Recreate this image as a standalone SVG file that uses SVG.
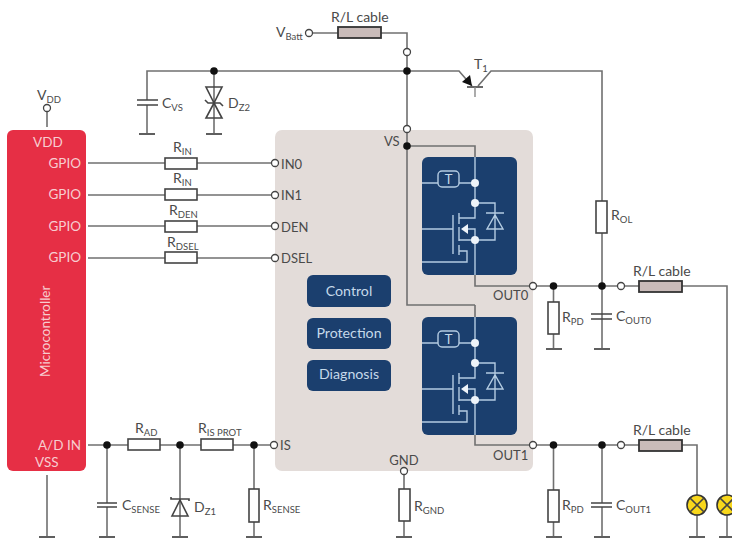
<svg xmlns="http://www.w3.org/2000/svg" width="732" height="538" viewBox="0 0 732 538">
<style>
text{font-family:Lato,"Noto Sans",sans-serif;font-size:14px;fill:#4a4a4a}
.s{font-size:9.500px}
.p{font-size:13px}
.w{fill:#f7cdd0;font-size:13.500px}
.lb{fill:#c5d9ea;font-size:14.200px}
.l{fill:none;stroke:#707070;stroke-width:1.6}
.k{fill:none;stroke:#444;stroke-width:1.6}
.g{fill:none;stroke:#5f5f5f;stroke-width:2}
.r{fill:#fff;stroke:#444;stroke-width:1.6}
.c{fill:#c9bbb9;stroke:#333;stroke-width:1.8}
.o{fill:#fff;stroke:#444;stroke-width:1.3}
.d{fill:#111}
.i{fill:none;stroke:#b4cce2;stroke-width:1.4}
.id{fill:#eef4fa}
.lamp{fill:#f8d71c;stroke:#333;stroke-width:1.6}
.box{fill:#1b3f6e}
</style>

<g id="ic-body"><rect x="275" y="130" width="258" height="341" rx="7" fill="#e3dcd9"/></g>
<g id="microcontroller">
<rect x="7" y="130" width="79" height="341" rx="6" fill="#e62f45"/>
<text class="w" x="33" y="147">VDD</text>
<text class="w" x="81" y="168" text-anchor="end">GPIO</text>
<text class="w" x="81" y="199" text-anchor="end">GPIO</text>
<text class="w" x="81" y="231" text-anchor="end">GPIO</text>
<text class="w" x="81" y="262" text-anchor="end">GPIO</text>
<text class="w" x="81" y="450" text-anchor="end">A/D IN</text>
<text class="w" x="35" y="467">VSS</text>
<text class="w" transform="translate(50 377) rotate(-90)">Microcontroller</text>
</g>

<g id="connectors">
<path class="l" d="M313 33H338M381 33H407V48.500M407 55.500V125.500M407 132.500V305H475M147 134V105M147 100V71H459L472 86M478 86L491 71H602V201M602 233V349M214 71V134"/>
<path class="l" d="M47 112V127M47 475V537M88 163H165M197 163H271.500M88 195H165M197 195H271.500M88 226H165M197 226H271.500M88 258H165M197 258H271.500"/>
<path class="l" d="M88 445H128M160 445H201M233 445H270.500M107 445V503M107 507V537M180 445V537M254 445V489M254 522V537M404 474.500V489M404 521V537"/>
<path class="l" d="M407 146H475V157M475 275V286H529.500M536.500 286H617.500M624.500 286H639M682 286H727V495M727 515V537M553.500 286V302M553.500 333V349M475 305V317M475 435V445H529.500M536.500 445H617.500M624.500 445H639M682 445H697V495M697 515V537M553.500 445V490M553.500 522V537M602 445V503M602 507V537"/>
<path class="k" d="M137 100H158M137 105H158M97 503H117M97 507H117M591 314H612M591 319H612M591 503H612M591 507H612"/>
<path class="g" d="M139 134H155M206 134H222M546 349H562M594 349H610M39 537H55M99 537H115M172 537H188M246 537H262M396 537H412M546 537H562M594 537H610M689 537H705M719 537H732"/>
</g>

<g id="vbatt"><circle class="o" cx="309" cy="33" r="3.500"/><text x="276" y="37">V<tspan class="s" dy="3">Batt</tspan></text></g>
<g id="vdd-pin"><circle class="o" cx="47" cy="108" r="3.500"/><text x="37" y="100">V<tspan class="s" dy="3">DD</tspan></text></g>
<g id="rl-top"><rect class="c" x="338" y="27" width="43" height="11"/><text x="331" y="22">R/L cable</text></g>
<g id="junction-top"><circle class="o" cx="407" cy="52" r="3.500"/><circle class="d" cx="407" cy="71" r="3.800"/></g>
<g id="t1">
<path class="k" d="M467 87H483"/><path d="M475 87V97" fill="none" stroke="#888" stroke-width="1.400"/>
<path class="d" d="M472 86L462 82L470 75Z"/>
<text x="474" y="69">T<tspan class="s" dy="3">1</tspan></text>
</g>
<g id="cvs"><text x="162" y="108">C<tspan class="s" dy="3">VS</tspan></text></g>
<g id="dz2">
<circle class="d" cx="214" cy="71" r="3.800"/>
<path class="k" d="M206 87H222L214 103ZM206 118H222L214 103ZM205 100L208 103H220L223 106"/>
<text x="228" y="108">D<tspan class="s" dy="3">Z2</tspan></text>
</g>
<g id="r-in0"><rect class="r" x="165" y="158" width="32" height="11"/><text x="173" y="152">R<tspan class="s" dy="3">IN</tspan></text></g>
<g id="r-in1"><rect class="r" x="165" y="189" width="32" height="11"/><text x="173" y="183">R<tspan class="s" dy="3">IN</tspan></text></g>
<g id="r-den"><rect class="r" x="165" y="221" width="32" height="11"/><text x="169" y="215">R<tspan class="s" dy="3">DEN</tspan></text></g>
<g id="r-dsel"><rect class="r" x="165" y="252" width="32" height="11"/><text x="167" y="247">R<tspan class="s" dy="3">DSEL</tspan></text></g>
<g id="in0"><circle class="o" cx="275" cy="163" r="3.500"/><text class="p" x="281" y="169">IN0</text></g>
<g id="in1"><circle class="o" cx="275" cy="195" r="3.500"/><text class="p" x="281" y="200">IN1</text></g>
<g id="den"><circle class="o" cx="275" cy="226" r="3.500"/><text class="p" x="281" y="232">DEN</text></g>
<g id="dsel"><circle class="o" cx="275" cy="258" r="3.500"/><text class="p" x="281" y="263">DSEL</text></g>
<g id="vs"><circle class="o" cx="407" cy="129" r="3.500"/><circle class="d" cx="407" cy="146" r="3.800"/><text class="p" x="384" y="146">VS</text></g>
<g id="control"><rect class="box" x="307" y="275" width="84" height="32" rx="6"/><text class="lb" x="349" y="296" text-anchor="middle">Control</text></g>
<g id="protection"><rect class="box" x="307" y="318" width="84" height="31" rx="6"/><text class="lb" x="349" y="338" text-anchor="middle">Protection</text></g>
<g id="diagnosis"><rect class="box" x="307" y="360" width="84" height="31" rx="6"/><text class="lb" x="349" y="379" text-anchor="middle">Diagnosis</text></g>

<defs>
<g id="sw">
<rect class="box" x="422" y="157" width="95" height="118" rx="6"/>
<rect x="438" y="171" width="21" height="16" rx="4" class="i"/>
<text x="448.500" y="184" text-anchor="middle" class="lb" style="font-size:13px">T</text>
<path class="i" d="M475 157V218H459M422 183H438M459 183H475M422 229H453M453 215V254M459 213V224M459 227V241M459 245V255M468 229H475V240M459 240H475M459 251H467V262H422M475 240V275M475 203H495V240H475M486 213H504M487 229H503L495 215Z"/>
<path class="id" d="M461 229L468 224V234Z"/>
<circle class="id" cx="475" cy="183" r="4"/><circle class="id" cx="475" cy="203" r="4"/><circle class="id" cx="475" cy="240" r="4"/>
</g>
</defs>
<g id="switch-0"><use href="#sw"/></g>
<g id="switch-1"><use href="#sw" y="160"/></g>

<g id="out0"><circle class="o" cx="533" cy="286" r="3.500"/><text class="p" x="493" y="300">OUT0</text></g>
<g id="out1"><circle class="o" cx="533" cy="445" r="3.500"/><text class="p" x="493" y="460">OUT1</text></g>
<g id="is"><circle class="o" cx="274" cy="445" r="3.500"/><text class="p" x="280" y="450">IS</text></g>
<g id="gnd"><circle class="o" cx="404" cy="471" r="3.500"/><text class="p" x="404" y="465" text-anchor="middle">GND</text></g>
<g id="r-gnd"><rect class="r" x="399" y="489" width="11" height="32"/><text x="414" y="511">R<tspan class="s" dy="3">GND</tspan></text></g>
<g id="r-ol"><rect class="r" x="596" y="201" width="11" height="32"/><text x="611" y="220">R<tspan class="s" dy="3">OL</tspan></text></g>
<g id="r-pd0"><circle class="d" cx="553.500" cy="286" r="3.800"/><rect class="r" x="548" y="302" width="11" height="32"/><text x="562" y="322">R<tspan class="s" dy="3">PD</tspan></text></g>
<g id="c-out0"><circle class="d" cx="602" cy="286" r="3.800"/><text x="616" y="321">C<tspan class="s" dy="3">OUT0</tspan></text></g>
<g id="rl-out0"><circle class="o" cx="621" cy="286" r="3.500"/><rect class="c" x="639" y="281" width="43" height="11"/><text x="633" y="276">R/L cable</text></g>
<g id="r-pd1"><circle class="d" cx="553.500" cy="445" r="3.800"/><rect class="r" x="548" y="490" width="11" height="32"/><text x="562" y="510">R<tspan class="s" dy="3">PD</tspan></text></g>
<g id="c-out1"><circle class="d" cx="602" cy="445" r="3.800"/><text x="616" y="510">C<tspan class="s" dy="3">OUT1</tspan></text></g>
<g id="rl-out1"><circle class="o" cx="621" cy="445" r="3.500"/><rect class="c" x="639" y="440" width="43" height="11"/><text x="633" y="435">R/L cable</text></g>
<g id="lamp-1"><circle class="lamp" cx="697" cy="505" r="10"/><path class="k" d="M690 498L704 512M704 498L690 512"/></g>
<g id="lamp-2"><circle class="lamp" cx="727" cy="505" r="10"/><path class="k" d="M720 498L734 512M734 498L720 512"/></g>
<g id="r-ad"><circle class="d" cx="107" cy="445" r="3.800"/><rect class="r" x="128" y="439" width="32" height="11"/><text x="135" y="433">R<tspan class="s" dy="3">AD</tspan></text></g>
<g id="r-isprot"><circle class="d" cx="180" cy="445" r="3.800"/><rect class="r" x="201" y="439" width="32" height="11"/><text x="198" y="433">R<tspan class="s" dy="3">IS PROT</tspan></text></g>
<g id="c-sense"><text x="122" y="510">C<tspan class="s" dy="3">SENSE</tspan></text></g>
<g id="dz1"><path class="k" d="M172 516H188L180 500ZM171 497V499H189V501"/><text x="194" y="512">D<tspan class="s" dy="3">Z1</tspan></text></g>
<g id="r-sense"><circle class="d" cx="254" cy="445" r="3.800"/><rect class="r" x="249" y="489" width="10" height="33"/><text x="263" y="510">R<tspan class="s" dy="3">SENSE</tspan></text></g>
</svg>
